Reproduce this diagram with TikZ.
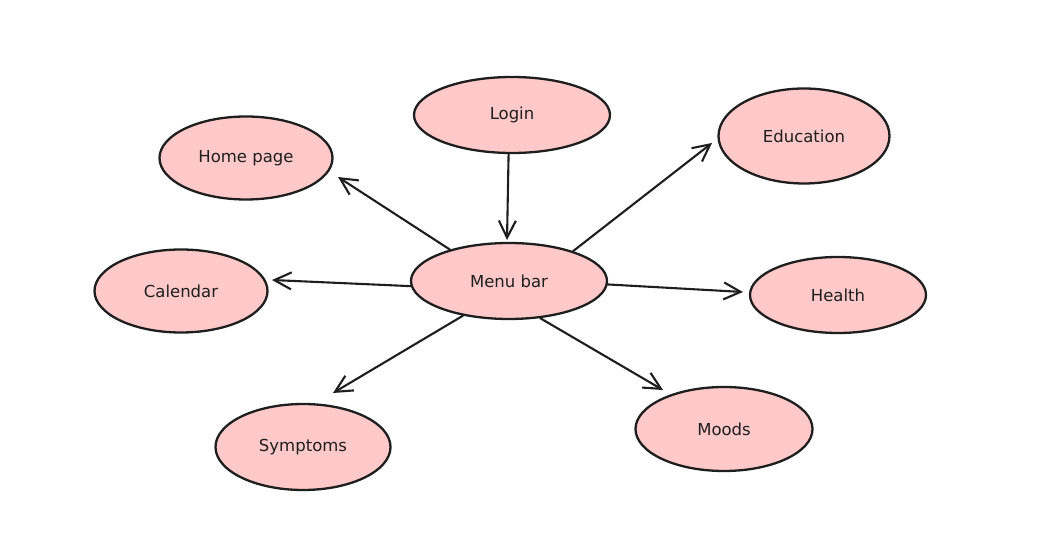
\documentclass[tikz,border=0pt]{standalone}
\usepackage{fontspec}
\setmainfont{DejaVu Sans}
\usetikzlibrary{shapes.geometric,arrows.meta}
\definecolor{pinkfill}{HTML}{FFC9C9}
\definecolor{ink}{HTML}{1E1E1E}
\begin{document}
\begin{tikzpicture}[x=1pt,y=1pt,
  bubble/.style={ellipse,draw=ink,fill=pinkfill,line width=2.3pt,inner sep=0pt,font=\fontsize{16.5}{19}\selectfont,text=ink},
  arr/.style={draw=ink,line width=2.1pt,line cap=round,line join=round,-{Straight Barb[length=17pt,width=17pt,line width=2.1pt]}}]
\useasboundingbox (0,0) rectangle (1040,546);
\node[bubble,minimum width=196pt,minimum height=76pt] (login) at (512,431) {Login};
\node[bubble,minimum width=173pt,minimum height=83pt] (home) at (246,388) {Home page};
\node[bubble,minimum width=171pt,minimum height=95pt] (edu) at (804,410) {Education};
\node[bubble,minimum width=173pt,minimum height=83pt] (cal) at (181,255) {Calendar};
\node[bubble,minimum width=196pt,minimum height=76pt] (menu) at (509,265) {Menu bar};
\node[bubble,minimum width=176pt,minimum height=76pt] (health) at (838,251) {Health};
\node[bubble,minimum width=175pt,minimum height=86pt] (symp) at (303,99) {Symptoms};
\node[bubble,minimum width=177pt,minimum height=84pt] (moods) at (724,117) {Moods};
\coordinate (tMenu) at (507,306);
\coordinate (tHome) at (338,369);
\coordinate (tEdu) at (712,403);
\coordinate (tCal) at (272,266);
\coordinate (tHealth) at (743,254);
\coordinate (tSymp) at (333,153);
\coordinate (tMoods) at (663,156);
\draw[arr] (login.265) -- (tMenu);
\draw[arr] (menu.152.7) -- (tHome);
\draw[arr] (menu.25.2) -- (tEdu);
\draw[arr] (menu.183.5) -- (tCal);
\draw[arr] (menu.-2.3) -- (tHealth);
\draw[arr] (menu.217.3) -- (tSymp);
\draw[arr] (menu.-50) -- (tMoods);
\end{tikzpicture}
\end{document}
